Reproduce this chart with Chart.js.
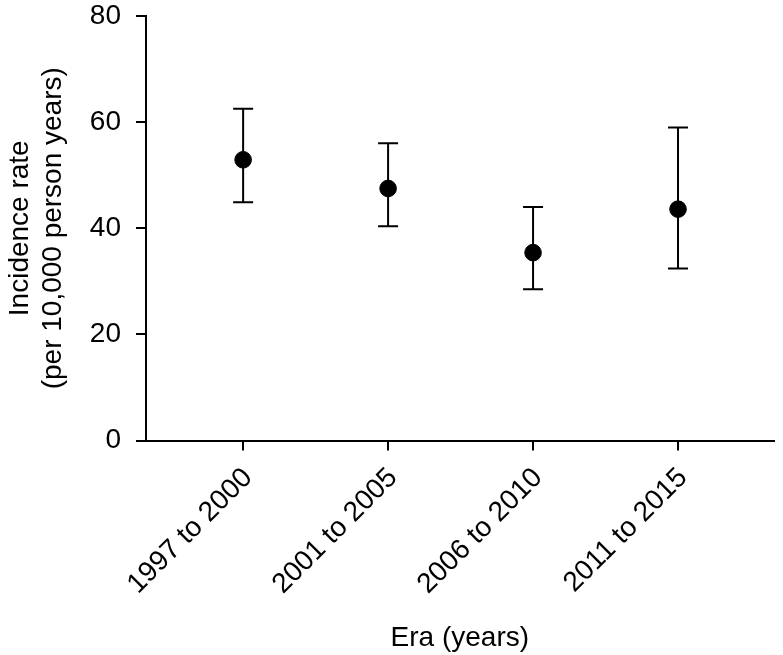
<!DOCTYPE html>
<html>
<head>
<meta charset="utf-8">
<script src="https://cdn.jsdelivr.net/npm/chart.js@4/dist/chart.umd.min.js"></script>
<style>
html,body{margin:0;padding:0;background:#fff;}
#wrap{width:783px;height:655px;}
</style>
</head>
<body>
<div id="wrap"><canvas id="c" width="783" height="655"></canvas></div>
<script>
const categories = ["1997 to 2000", "2001 to 2005", "2006 to 2010", "2011 to 2015"];
const rates = [52.9, 47.5, 35.4, 43.6];
const lowerCI = [44.9, 40.4, 28.5, 32.4];
const upperCI = [62.5, 56.0, 44.0, 59.0];
const yTicks = [0, 20, 40, 60, 80];

const FONT = "'Liberation Sans', Arial, Helvetica, sans-serif";

const errorBars = {
  id: 'errorBars',
  afterDatasetsDraw(chart) {
    const ctx = chart.ctx;
    const xs = chart.scales.x, ys = chart.scales.y;
    ctx.save();
    ctx.strokeStyle = '#000';
    ctx.lineWidth = 2;
    ctx.lineCap = 'butt';
    rates.forEach((v, i) => {
      const x = xs.getPixelForValue(i);
      const yl = ys.getPixelForValue(lowerCI[i]);
      const yu = ys.getPixelForValue(upperCI[i]);
      ctx.beginPath();
      ctx.moveTo(x, yl); ctx.lineTo(x, yu);
      ctx.moveTo(x - 10, yl); ctx.lineTo(x + 10, yl);
      ctx.moveTo(x - 10, yu); ctx.lineTo(x + 10, yu);
      ctx.stroke();
    });
    ctx.restore();
  }
};

new Chart(document.getElementById('c'), {
  type: 'scatter',
  data: {
    datasets: [{
      data: rates.map((v, i) => ({x: i, y: v})),
      backgroundColor: '#000',
      borderColor: '#000',
      pointRadius: 8.3,
      pointHoverRadius: 8.3
    }]
  },
  options: {
    responsive: false,
    animation: false,
    devicePixelRatio: 1,
    layout: {padding: {top: 16, right: 3, left: 0, bottom: 0}},
    plugins: {legend: {display: false}, tooltip: {enabled: false}},
    scales: {
      x: {
        type: 'linear',
        min: -0.67,
        max: 3.66,
        afterBuildTicks: s => { s.ticks = categories.map((c, i) => ({value: i})); },
        afterFit: s => { s.height = 214.5; s.paddingLeft = 0; s.paddingRight = 0; },
        grid: {drawOnChartArea: false, drawTicks: true, tickLength: 10, color: '#000', lineWidth: 2},
        border: {display: true, color: '#000', width: 2},
        ticks: {
          autoSkip: false,
          minRotation: 45, maxRotation: 45,
          padding: 11,
          labelOffset: 5,
          color: '#000',
          font: {family: FONT, size: 28},
          callback: v => categories[v]
        },
        title: {display: true, text: 'Era (years)', color: '#000', font: {family: FONT, size: 28}, padding: {top: 0, bottom: 0}}
      },
      y: {
        min: 0, max: 80,
        afterBuildTicks: s => { s.ticks = yTicks.map(v => ({value: v})); },
        afterFit: s => { s.width = 146; s.paddingTop = 0; s.paddingBottom = 0; },
        grid: {drawOnChartArea: false, drawTicks: true, tickLength: 10, color: '#000', lineWidth: 2},
        border: {display: true, color: '#000', width: 2},
        ticks: {padding: 15, color: '#000', font: {family: FONT, size: 28}},
        title: {display: true, text: ['Incidence rate', '(per 10,000 person years)'], color: '#000', font: {family: FONT, size: 28, lineHeight: 1.2}, padding: {top: 3, bottom: 0}}
      }
    }
  },
  plugins: [errorBars]
});
</script>
</body>
</html>
